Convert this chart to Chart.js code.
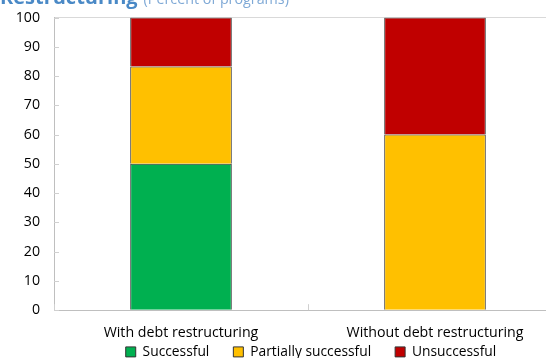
<!DOCTYPE html>
<html>
<head>
<meta charset="utf-8">
<script src="https://cdn.jsdelivr.net/npm/chart.js@4"></script>
<style>
  html, body { margin: 0; padding: 0; background: #fff; overflow: hidden; width: 546px; height: 358px; }
  #wrap { position: relative; width: 546px; height: 358px; overflow: hidden; }
  #title { position: absolute; left: 0; top: -13px; white-space: nowrap; font-family: "Open Sans", "Noto Sans", sans-serif; line-height: 20px; }
  #title .main { font-weight: bold; font-size: 20px; color: #4a89c6; }
  #title .sub { font-size: 14.3px; color: #7fa9d6; margin-left: 6px; }
  canvas { position: absolute; left: 0; top: -5px; }
</style>
</head>
<body>
<div id="wrap">
  <canvas id="c" width="604" height="400"></canvas>
  <div id="title"><span class="main">Restructuring</span><span class="sub">(Percent of programs)</span></div>
</div>
<script>
const categories = ["With debt restructuring", "Without debt restructuring"];
const successful = [50, 0];
const partiallySuccessful = [33.3, 60];
const unsuccessful = [16.7, 40];
const yTicks = [0, 10, 20, 30, 40, 50, 60, 70, 80, 90, 100];

const FONT = "'Open Sans', 'Noto Sans', sans-serif";

// short tick marks drawn inward from the left and bottom axis lines
const inwardTicks = {
  id: 'inwardTicks',
  afterDatasetsDraw(chart) {
    const ctx = chart.ctx;
    const { left, bottom } = chart.chartArea;
    const ys = chart.scales.y, xs = chart.scales.x;
    ctx.save();
    ctx.strokeStyle = '#d0d0d0';
    ctx.lineWidth = 1;
    ctx.beginPath();
    yTicks.forEach(v => {
      const py = Math.round(ys.getPixelForValue(v)) + 0.5;
      ctx.moveTo(left, py);
      ctx.lineTo(left + 5, py);
    });
    for (let i = 0; i <= categories.length; i++) {
      const px = Math.round(xs.getPixelForValue(i - 0.5)) + 0.5;
      ctx.moveTo(px, bottom);
      ctx.lineTo(px, bottom - 6);
    }
    ctx.stroke();
    ctx.restore();
  }
};

// place the legend row just under the category labels, centred under the visible plot
const legendPlacement = {
  id: 'legendPlacement',
  afterLayout(chart) {
    const lg = chart.legend;
    const dx = 30, dy = 326 - lg.top;
    lg.left += dx; lg.right += dx;
    lg.top += dy; lg.bottom += dy;
  }
};

const common = { borderColor: '#333333', borderWidth: 1, barPercentage: 0.8, categoryPercentage: 0.5 };

new Chart(document.getElementById('c'), {
  type: 'bar',
  data: {
    labels: categories,
    datasets: [
      Object.assign({ label: 'Successful', data: successful, backgroundColor: '#00b050' }, common),
      Object.assign({ label: 'Partially successful', data: partiallySuccessful, backgroundColor: '#ffc000' }, common),
      Object.assign({ label: 'Unsuccessful', data: unsuccessful, backgroundColor: '#c00000' }, common)
    ]
  },
  options: {
    responsive: false,
    animation: false,
    devicePixelRatio: 1,
    layout: { padding: { left: 0, right: 42, top: 12, bottom: 0 } },
    plugins: {
      title: { display: false },
      tooltip: { enabled: false },
      legend: {
        position: 'bottom',
        labels: {
          boxWidth: 10, boxHeight: 10, padding: 24,
          color: '#000', font: { family: FONT, size: 13.8 },
          generateLabels(chart) {
            return chart.data.datasets.map((d, i) => ({
              text: d.label, fillStyle: d.backgroundColor, strokeStyle: '#333333',
              lineWidth: 1, datasetIndex: i, hidden: false
            }));
          }
        }
      }
    },
    scales: {
      x: {
        stacked: true,
        border: { display: true, color: '#bfbfbf', width: 1 },
        grid: { display: false },
        ticks: { color: '#000', font: { family: FONT, size: 14.2 }, padding: 6 }
      },
      y: {
        stacked: true,
        min: 0, max: 100,
        afterFit(scale) { scale.width = 54; },
        border: { display: true, color: '#bfbfbf', width: 1 },
        grid: {
          drawTicks: false,
          color: ctx => (ctx.tick && ctx.tick.value === 100 ? '#d9d9d9' : 'rgba(0,0,0,0)')
        },
        ticks: {
          stepSize: 10, autoSkip: false,
          color: '#000', font: { family: FONT, size: 14.2 }, padding: 14
        }
      }
    }
  },
  plugins: [inwardTicks, legendPlacement]
});
</script>
</body>
</html>
